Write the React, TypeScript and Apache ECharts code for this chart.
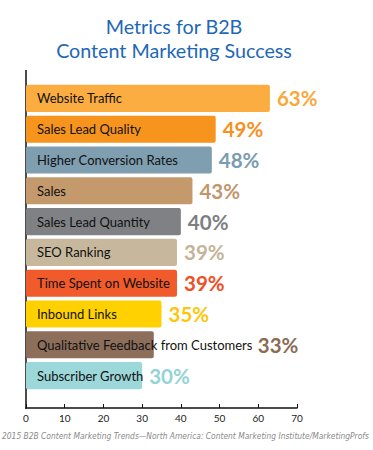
import React, { useEffect, useRef } from "react";
import * as echarts from "echarts";

const categories = [
  "Website Traffic",
  "Sales Lead Quality",
  "Higher Conversion Rates",
  "Sales",
  "Sales Lead Quantity",
  "SEO Ranking",
  "Time Spent on Website",
  "Inbound Links",
  "Qualitative Feedback from Customers",
  "Subscriber Growth",
];
const values = [63, 49, 48, 43, 40, 39, 39, 35, 33, 30];
const barColors = [
  "#FBAD41",
  "#F7941E",
  "#7F9FB1",
  "#C49A6C",
  "#808184",
  "#C7B89D",
  "#F15A2B",
  "#FFD100",
  "#8C6E5B",
  "#9CD7DA",
];
const labelColors = [
  "#F9A83C",
  "#F7901E",
  "#7A9CB0",
  "#C2966A",
  "#7D7E81",
  "#C3B498",
  "#F04E23",
  "#FDC60A",
  "#8A6C56",
  "#93D3D6",
];
const xTicks = [0, 10, 20, 30, 40, 50, 60, 70];
const titleLines = ["Metrics for B2B", "Content Marketing Success"];
const sourceText =
  "2015 B2B Content Marketing Trends\u2014North America: Content Marketing Institute/MarketingProfs";

export default function App() {
  const ref = useRef<HTMLDivElement>(null);
  useEffect(() => {
    if (!ref.current) return;
    const chart = echarts.init(ref.current, null, { renderer: "svg" });
    const font = "Lato, 'Open Sans', sans-serif";
    chart.setOption({
      animation: false,
      backgroundColor: "#ffffff",
      title: {
        text: titleLines.join("\n"),
        left: 169,
        textAlign: "center",
        top: 9,
        textStyle: {
          fontFamily: font,
          fontSize: 19.7,
          fontWeight: "normal",
          color: "#1D68B5",
          lineHeight: 24,
        },
      },
      grid: { left: 26, right: 76, top: 83, height: 308, containLabel: false },
      xAxis: {
        type: "value",
        min: xTicks[0],
        max: xTicks[xTicks.length - 1],
        interval: 10,
        offset: 17,
        splitLine: { show: false },
        axisLine: { show: true, lineStyle: { color: "#111", width: 1.5 } },
        axisTick: { show: true, inside: true, length: 4, lineStyle: { color: "#111" } },
        axisLabel: { fontFamily: font, fontSize: 10, color: "#222", margin: 5 },
      },
      yAxis: {
        type: "category",
        data: categories,
        inverse: true,
        axisLine: { show: false },
        axisTick: { show: false },
        axisLabel: { show: false },
      },
      series: [
        {
          type: "bar",
          barCategoryGap: "12%",
          data: values.map((v, i) => ({
            value: v,
            itemStyle: { color: barColors[i], borderRadius: 2 },
          })),
          label: {
            show: true,
            position: "insideLeft",
            distance: 11,
            formatter: (p: any) => categories[p.dataIndex],
            fontFamily: font,
            fontSize: 13,
            color: "#111",
          },
          z: 2,
        },
        {
          type: "bar",
          barGap: "-100%",
          barCategoryGap: "12%",
          silent: true,
          data: values.map((v, i) => ({
            value: v,
            itemStyle: { color: "rgba(0,0,0,0)" },
            label: {
              color: labelColors[i],
              distance: i === 8 ? 104 : 7,
            },
          })),
          label: {
            show: true,
            position: "right",
            formatter: "{c}%",
            fontFamily: font,
            fontSize: 20.5,
            fontWeight: "bold",
          },
          z: 3,
        },
      ],
      graphic: [
        {
          type: "line",
          shape: { x1: 26, y1: 70, x2: 26, y2: 409 },
          style: { stroke: "#111", lineWidth: 1.5 },
        },
        {
          type: "text",
          left: 2,
          top: 432,
          style: {
            text: sourceText,
            fontFamily: "'Liberation Sans Narrow', 'DejaVu Sans Condensed', Lato, sans-serif",
            fontSize: 8.4,
            fontStyle: "italic",
            fill: "#8a8a8a",
          },
        },
      ],
    });
    return () => chart.dispose();
  }, []);
  return <div ref={ref} style={{ width: 373, height: 450, position: "absolute", left: 0, top: 0 }} />;
}
